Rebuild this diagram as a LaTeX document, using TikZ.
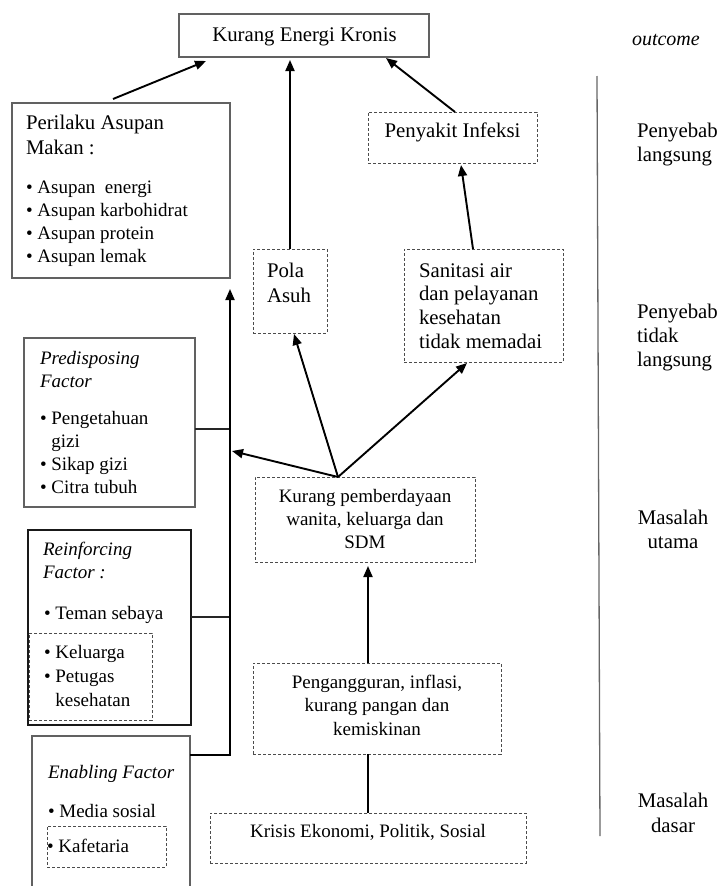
\documentclass[tikz,border=0pt]{standalone}
\usepackage{fontspec}
\setmainfont{Liberation Serif}
\usetikzlibrary{arrows.meta,calc}
\newcommand\Lblk[1]{\vtop{\halign{##\hfil\cr#1\crcr}}}
\newcommand\Cblk[1]{\vtop{\halign{\hfil##\hfil\cr#1\crcr}}}
\newcommand\bigf{\fontsize{20.8}{24}\selectfont}
\newcommand\smf{\fontsize{19}{23.2}\selectfont}
\newcommand\bul{\textbullet\ }
\begin{document}
\begin{tikzpicture}[x=1pt,y=-1pt,
  solidbox/.style={draw=black!62,line width=1.4pt,inner sep=0pt,outer sep=0pt,anchor=north west},
  boldbox/.style={draw=black!90,line width=2pt,inner sep=0pt,outer sep=0pt,anchor=north west},
  dashbox/.style={draw=black!70,line width=1pt,dash pattern=on 3.3pt off 1.7pt,inner sep=0pt,outer sep=0pt,anchor=north west},
  txt/.style={inner sep=0pt,outer sep=0pt,anchor=base west,text=black},
  ctxt/.style={inner sep=0pt,outer sep=0pt,anchor=base,text=black},
  conn/.style={line width=1.9pt,draw=black,-{Triangle[length=11pt,width=9pt]}},
  link/.style={line width=1.4pt,draw=black!85}]
\useasboundingbox (0,0) rectangle (719,886);

% ---- boxes ----
\node[solidbox,minimum width=250pt,minimum height=43pt] (keb) at (179,14) {};
\node[solidbox,minimum width=218pt,minimum height=175pt] (peri) at (12,103) {};
\node[dashbox,minimum width=169pt,minimum height=51pt] (peny) at (368,112) {};
\node[dashbox,minimum width=74pt,minimum height=84pt] (pola) at (253,249) {};
\node[dashbox,minimum width=159pt,minimum height=113pt] (sani) at (404,249) {};
\node[solidbox,minimum width=171pt,minimum height=169pt] (pred) at (24,338) {};
\node[boldbox,minimum width=163pt,minimum height=195pt] (rein) at (28,530) {};
\node[dashbox,minimum width=123pt,minimum height=87pt] (reinsub) at (29,633) {};
\node[solidbox,minimum width=158pt,minimum height=160pt] (enab) at (32,736) {};
\node[dashbox,minimum width=119pt,minimum height=41pt] (enabsub) at (47,826) {};
\node[dashbox,minimum width=220pt,minimum height=85pt] (kp) at (255,477) {};
\node[dashbox,minimum width=248pt,minimum height=91pt] (pg) at (253,663) {};
\node[dashbox,minimum width=316pt,minimum height=50pt] (kr) at (210,813) {};

% ---- texts ----
\node[ctxt,font=\bigf] (tkeb) at (304.5,41) {Kurang Energi Kronis};
\node[txt,font=\fontsize{20}{24}\selectfont\itshape] (tout) at (632,45) {outcome};
\node[txt,font=\fontsize{20.8}{25}\selectfont] (tperi1) at (26,129) {\Lblk{Perilaku Asupan\cr Makan :}};
\node[txt,font=\smf] (tperi2) at (26,193) {\Lblk{\bul Asupan\ \ energi\cr \bul Asupan karbohidrat\cr \bul Asupan protein\cr \bul Asupan lemak}};
\node[ctxt,font=\bigf] (tpeny) at (452.5,137) {Penyakit Infeksi};
\node[txt,font=\fontsize{20.8}{25}\selectfont] (tpola) at (267,277) {\Lblk{Pola\cr Asuh}};
\node[txt,font=\fontsize{20.8}{23.7}\selectfont] (tsani) at (419,277) {\Lblk{Sanitasi air\cr dan pelayanan\cr kesehatan\cr tidak memadai}};
\node[txt,font=\bigf] (tlab1) at (637,137) {\Lblk{Penyebab\cr langsung}};
\node[txt,font=\bigf] (tlab2) at (637,318) {\Lblk{Penyebab\cr tidak\cr langsung}};
\node[ctxt,font=\bigf] (tlab3) at (673,524) {\Cblk{Masalah\cr utama}};
\node[ctxt,font=\fontsize{20.8}{25}\selectfont] (tlab4) at (673,807) {\Cblk{Masalah\cr dasar}};

\node[txt,font=\smf\itshape] (tpred1) at (40,364) {\Lblk{Predisposing\cr Factor}};
\node[txt,font=\smf] (tpred2) at (40,424) {\Lblk{\bul Pengetahuan\cr \hphantom{\bul}gizi\cr \bul Sikap gizi\cr \bul Citra tubuh}};

\node[txt,font=\smf\itshape] (trein1) at (43,555) {\Lblk{Reinforcing\cr Factor :}};
\node[txt,font=\smf] (trein2) at (44,619) {\bul Teman sebaya};
\node[txt,font=\fontsize{19}{24}\selectfont] (trein3) at (44,658) {\Lblk{\bul Keluarga\cr \bul Petugas\cr \hphantom{\bul}kesehatan}};

\node[txt,font=\smf\itshape] (tenab1) at (48,778) {Enabling Factor};
\node[txt,font=\smf] (tenab2) at (48,817) {\bul Media sosial};
\node[txt,font=\smf] (tenab3) at (47,852) {\bul Kafetaria};

\node[ctxt,font=\smf] (tkp) at (365,502) {\Cblk{Kurang pemberdayaan\cr wanita, keluarga dan\cr SDM}};
\node[ctxt,font=\fontsize{19}{23.5}\selectfont] (tpg) at (377,688) {\Cblk{Pengangguran, inflasi,\cr kurang pangan dan\cr kemiskinan}};
\node[ctxt,font=\smf] (tkr) at (368,837) {Krisis Ekonomi, Politik, Sosial};

% ---- divider ----
\draw[draw=black!60,line width=1.3pt] (597,76) -- (600,836);

% ---- connectors ----
\coordinate (bustop) at ($(peri.south east)+(0,11)$);
\coordinate (hub) at ($(kp.north west)+(83,0)$);
\coordinate (pl) at ($(pred.north east)+(0,91)$);
\coordinate (rl) at ($(rein.north east)+(0,87)$);
\coordinate (el) at ($(enab.north east)+(0,19)$);

\draw[conn] ($(peri.north west)+(101,-4)$) -- ($(keb.south west)+(27,4)$);
\draw[conn] (pola.north) -- ($(pola.north |- keb.south)+(0,3)$);
\draw[conn] ($(peny.north)+(2.5,0)$) -- ($(keb.south east)+(-43,1)$);
\draw[conn] ($(sani.north)+(-10.5,0)$) -- ($(peny.south)+(8.5,2)$);

\draw[link] (pl) -- (pl -| bustop);
\draw[link] (rl) -- (rl -| bustop);
\draw[conn,line join=miter] (el) -- (el -| bustop) -- (bustop);

\draw[conn] (hub) -- ($(bustop)+(2,162)$);
\draw[conn] (hub) -- ($(pola.south)+(4,1)$);
\draw[conn] (hub) -- ($(sani.south west)+(63,1)$);
\draw[conn] ($(pg.north)+(-9,0)$) -- ($(kp.south)+(3,4)$);
\draw[line width=2pt,draw=black] (kr.north) -- (kr.north |- pg.south);
\end{tikzpicture}
\end{document}
